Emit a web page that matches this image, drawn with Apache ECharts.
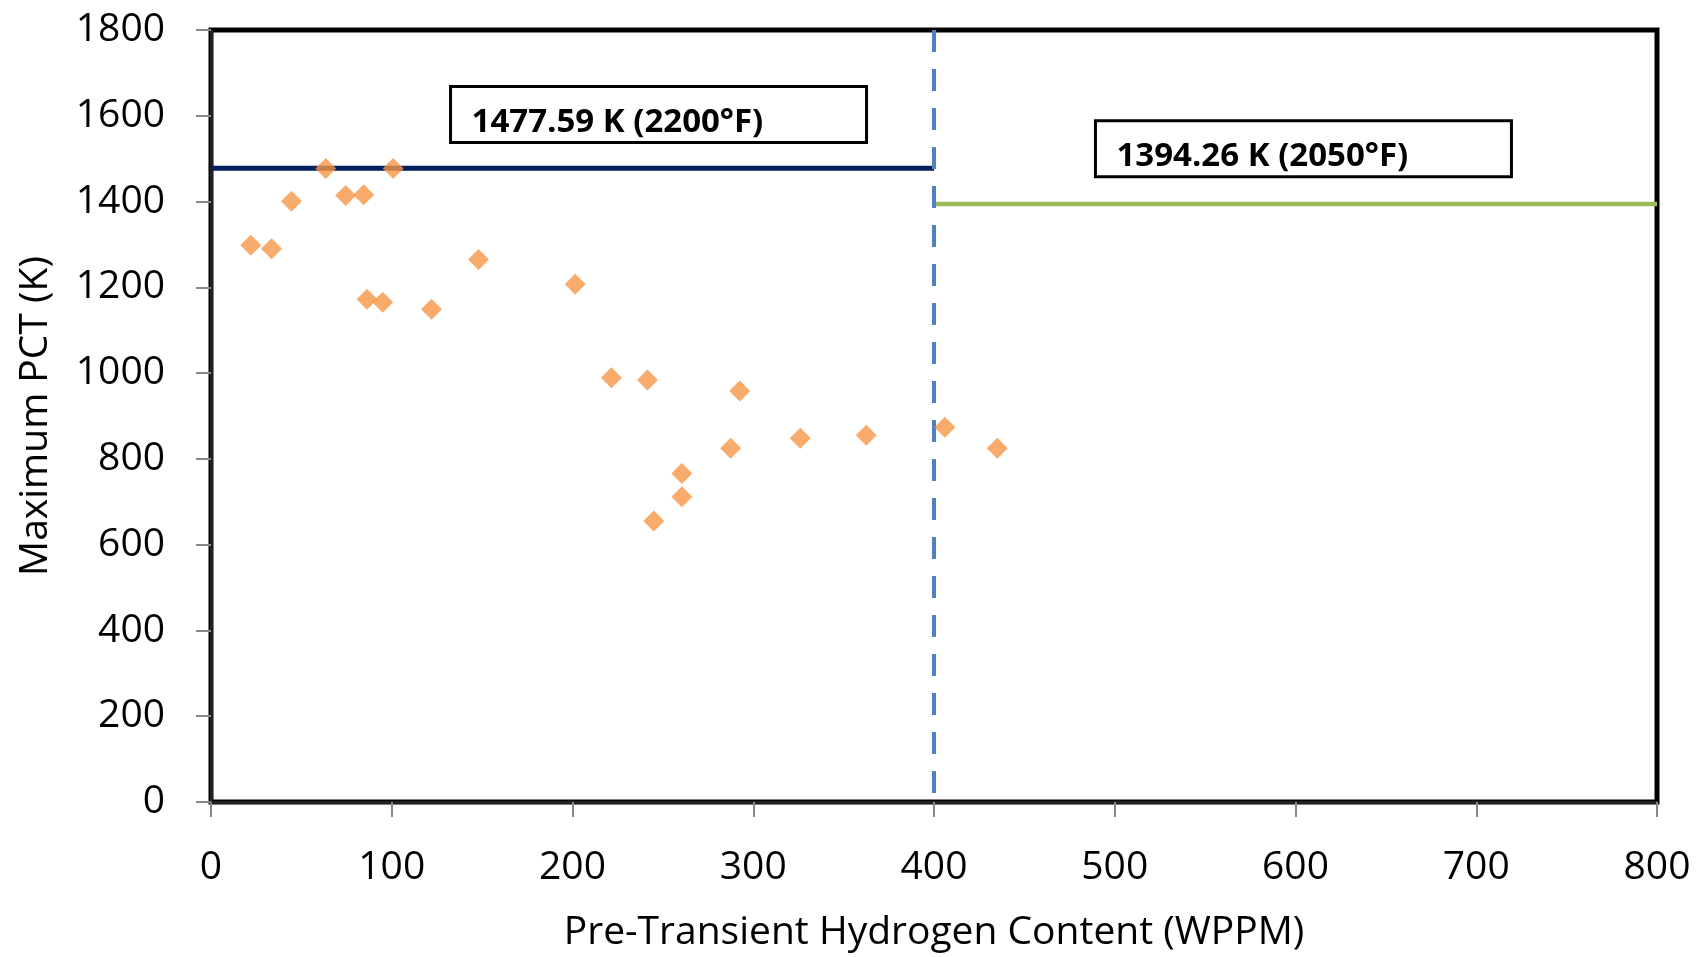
<!DOCTYPE html>
<html>
<head>
<meta charset="utf-8">
<script src="https://cdn.jsdelivr.net/npm/echarts@6/dist/echarts.min.js"></script>
<style>
html,body{margin:0;padding:0;background:#fff;overflow:hidden;}
#chart{width:1698px;height:957px;}
</style>
</head>
<body>
<div id="chart"></div>
<script>
// Data
const hydrogenWppm = [22, 33.5, 44.5, 63.5, 74.5, 84.5, 100.8, 86.3, 95, 122, 148, 201.5, 221.5, 241.5, 292.5, 245, 260.5, 260.5, 287.5, 326, 362.5, 406, 435];
const maxPct = [1298, 1290, 1401, 1477, 1414, 1416, 1477, 1172, 1165, 1149, 1265, 1207, 989, 984, 958, 655, 712, 766, 825, 848, 855, 874, 825];

const limitXs2200 = [0, 400];
const limit2200K = 1477.59;
const limitXs2050 = [400, 800];
const limit2050K = 1394.26;
const dividerX = 400;
const dividerYs = [1800, 0];

const labelTexts = ['1477.59 K (2200°F)', '1394.26 K (2050°F)'];
const labelAnchorX = [247.6, 604.4];
const labelAnchorY = [1603, 1523];

const xTicks = [0, 100, 200, 300, 400, 500, 600, 700, 800];
const yTicks = [0, 200, 400, 600, 800, 1000, 1200, 1400, 1600, 1800];

const FONT = '"Open Sans", sans-serif';
const chart = echarts.init(document.getElementById('chart'), null, { width: 1698, height: 957 });

chart.setOption({
  animation: false,
  backgroundColor: '#fff',
  grid: {
    left: 211, right: 41, top: 30, bottom: 151,
    show: true, borderColor: '#000', borderWidth: 5, backgroundColor: 'transparent'
  },
  xAxis: {
    type: 'value',
    min: xTicks[0], max: xTicks[xTicks.length - 1], interval: 100,
    name: 'Pre-Transient Hydrogen Content (WPPM)',
    nameLocation: 'middle', nameGap: 111,
    nameTextStyle: { fontFamily: FONT, fontSize: 39, color: '#000' },
    axisLine: { show: true, onZero: false, lineStyle: { color: '#222', width: 3 } },
    axisTick: { show: true, length: 15, lineStyle: { color: '#888', width: 2 } },
    axisLabel: { fontFamily: FONT, fontSize: 39, color: '#000', margin: 46, formatter: v => String(v) },
    splitLine: { show: false }
  },
  yAxis: {
    type: 'value',
    min: yTicks[0], max: yTicks[yTicks.length - 1], interval: 200,
    name: 'Maximum PCT (K)',
    nameLocation: 'middle', nameGap: 156,
    nameTextStyle: { fontFamily: FONT, fontSize: 39, color: '#000' },
    axisLine: { show: true, onZero: false, lineStyle: { color: '#222', width: 3 } },
    axisTick: { show: true, length: 15, lineStyle: { color: '#888', width: 2 } },
    axisLabel: { fontFamily: FONT, fontSize: 39, color: '#000', margin: 46, formatter: v => String(v) },
    splitLine: { show: false }
  },
  series: [
    {
      name: '2200F limit', type: 'line', symbol: 'none', z: 3,
      lineStyle: { color: '#002060', width: 5 },
      data: limitXs2200.map(x => [x, limit2200K])
    },
    {
      name: '2050F limit', type: 'line', symbol: 'none', z: 3,
      lineStyle: { color: '#9BBB59', width: 4.5 },
      data: limitXs2050.map(x => [x, limit2050K])
    },
    {
      name: 'divider', type: 'line', symbol: 'none', z: 3,
      lineStyle: { color: '#4F81BD', width: 4, type: [22, 17] },
      data: dividerYs.map(y => [dividerX, y])
    },
    {
      name: 'PCT', type: 'scatter', symbol: 'diamond', symbolSize: 21, z: 5,
      itemStyle: { color: '#F79646' },
      data: hydrogenWppm.map((x, i) => [x, maxPct[i]])
    },
    {
      name: 'labels', type: 'custom', z: 6, clip: false,
      data: labelTexts.map((t, i) => [labelAnchorX[i], labelAnchorY[i], i]),
      renderItem: function (params, api) {
        const c = api.coord([api.value(0), api.value(1)]);
        const w = 416, h = 56;
        const idx = api.value(2);
        return {
          type: 'group',
          children: [
            {
              type: 'rect',
              shape: { x: c[0] - w / 2, y: c[1] - h / 2, width: w, height: h },
              style: { fill: '#fff', stroke: '#000', lineWidth: 3 }
            },
            {
              type: 'text',
              style: {
                x: c[0] - w / 2 + 21, y: c[1] + 8,
                text: labelTexts[idx],
                fill: '#000',
                font: 'bold 33px ' + FONT,
                textAlign: 'left', textVerticalAlign: 'middle'
              }
            }
          ]
        };
      }
    }
  ]
});
</script>
</body>
</html>
